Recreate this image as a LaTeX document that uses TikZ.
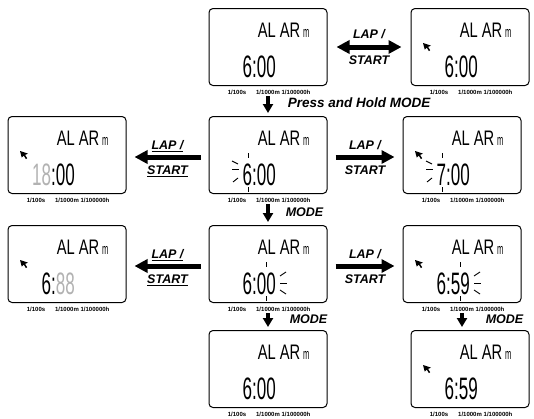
\documentclass[tikz,border=0pt]{standalone}
\usepackage{fontspec}
\setmainfont{Liberation Sans}
\usetikzlibrary{arrows.meta}
\colorlet{lcdoff}{black!30}
\newcommand{\keyul}[1]{\vtop{\hbox{#1}\kern1.2pt\hrule height 1pt}}

\begin{document}
\begin{tikzpicture}[x=1pt, y=-1pt,
    lcd/.style={draw, rounded corners=4pt, line width=1pt, minimum width=118pt, minimum height=77pt, inner sep=0pt},
    word/.style={anchor=base, inner sep=0pt, font=\fontsize{21}{21}\selectfont},
    unit/.style={anchor=base west, inner sep=0pt, font=\fontsize{15}{15}\selectfont},
    digits/.style={anchor=base east, inner sep=0pt, font=\fontsize{31}{31}\selectfont},
    res/.style={inner sep=0pt, font=\bfseries\fontsize{6}{6}\selectfont},
    keylabel/.style={anchor=base, inner sep=0pt, font=\bfseries\itshape\fontsize{12.5}{12.5}\selectfont},
    harrow/.style={line width=5pt, -{Triangle[length=13pt, width=13pt]}, shorten >=8pt, shorten <=8pt},
    dharrow/.style={harrow, {Triangle[length=13pt, width=13pt]}-{Triangle[length=13pt, width=13pt]}},
    varrow/.style={line width=3.5pt, -{Triangle[length=9pt, width=10pt]}, shorten >=3pt, shorten <=2pt},
    blink/.style={line width=0.9pt}]

  \useasboundingbox (0,0) rectangle (534,418);

  % Displays
  \foreach \n/\x/\y/\p in {m1/268/47/0, r1/470/47/1, l2/67/155/1, m2/268/155/0, r2/462/155/1,
      l3/67/264/1, m3/268/264/0, r3/462/264/1, m4/268/369/0, r4/470/369/1} {
    \node[lcd] (\n) at (\x,\y) {};
    \node[word] (\n-w) at ([shift={(11,-9.5)}]\n.center) {\scalebox{0.7}[1]{AL AR}};
    \node[unit] at ([xshift=2.5pt]\n-w.base east) {\scalebox{0.5}[1]{m}};
    \node[res] at ([shift={(-31,45)}]\n.center) {1/100s};
    \node[res] (\n-l) at ([shift={(0,45)}]\n.center) {1/1000m};
    \node[res] at ([shift={(28,45)}]\n.center) {1/100000h};
    \ifnum\p=1
      \fill ([shift={(-47,-4)}]\n.center) -- ++(8,2.6) -- ++(-2.9,1.3) -- ++(2.1,3.4) -- ++(-1.3,0.8)
        -- ++(-2.1,-3.4) -- ++(-2.1,1.8) -- cycle;
    \fi
  }

  % Uhrzeit
  \foreach \n/\t in {m1/6:00, r1/6:00, l2/{\textcolor{lcdoff}{18}:00}, m2/6:00, r2/7:00,
      l3/{6:\textcolor{lcdoff}{88}}, m3/6:00, r3/6:59, m4/6:00, r4/6:59}
    \node[digits] (\n-t) at ([shift={(8,30.5)}]\n.center) {\scalebox{0.55}[1]{\t}};

  % Blinkende Stunde
  \foreach \n in {m2, r2} {
    \begin{scope}[shift={(\n.center)}, blink]
      \draw (-36,6) -- (-30,9);
      \draw (-36,14) -- (-29,14);
      \draw (-35,27) -- (-30,23);
      \draw (-20,-2) -- (-20,3);
      \draw (-20,32) -- (-20,37);
    \end{scope}
  }

  % Blinkende Minuten
  \foreach \n in {m3, r3} {
    \begin{scope}[shift={(\n.center)}, blink]
      \draw (12,12) -- (18,8);
      \draw (12,19) -- (19,19);
      \draw (12,26) -- (18,30);
      \draw (-2,-2) -- (-2,3);
      \draw (-2,32) -- (-2,37);
    \end{scope}
  }

  % Tasten
  \draw[dharrow, shorten <=9pt, shorten >=9pt] (m1) -- (r1)
    node[keylabel, midway, yshift=9pt] {LAP /}
    node[keylabel, midway, yshift=-17.5pt] {START};
  \draw[harrow] ([yshift=-2pt]m2.west) -- ([yshift=-2pt]l2.east)
    node[keylabel, midway, yshift=7.5pt] {\keyul{LAP /}}
    node[keylabel, midway, yshift=-17.5pt] {\keyul{START}};
  \draw[harrow] ([yshift=-2pt]m2.east) -- ([yshift=-2pt]r2.west)
    node[keylabel, midway, yshift=7.5pt] {LAP /}
    node[keylabel, midway, yshift=-17.5pt] {START};
  \draw[harrow] ([yshift=-2pt]m3.west) -- ([yshift=-2pt]l3.east)
    node[keylabel, midway, yshift=7.5pt] {\keyul{LAP /}}
    node[keylabel, midway, yshift=-17.5pt] {\keyul{START}};
  \draw[harrow] ([yshift=-2pt]m3.east) -- ([yshift=-2pt]r3.west)
    node[keylabel, midway, yshift=7.5pt] {LAP /}
    node[keylabel, midway, yshift=-17.5pt] {START};

  % MODE
  \draw[varrow] (m1-l) -- (m2)
    node[keylabel, midway, anchor=west, xshift=18pt, yshift=3pt, font=\bfseries\itshape\fontsize{13.5}{13.5}\selectfont] {Press and Hold MODE};
  \draw[varrow] (m2-l) -- (m3)
    node[keylabel, midway, anchor=west, xshift=16pt, yshift=2pt] {MODE};
  \draw[varrow] (m3-l) -- (m4)
    node[keylabel, midway, anchor=west, xshift=20pt, yshift=2pt] {MODE};
  \draw[varrow] (r3-l) -- (r3-l |- r4.north)
    node[keylabel, midway, anchor=west, xshift=22pt, yshift=2pt] {MODE};
\end{tikzpicture}
\end{document}
